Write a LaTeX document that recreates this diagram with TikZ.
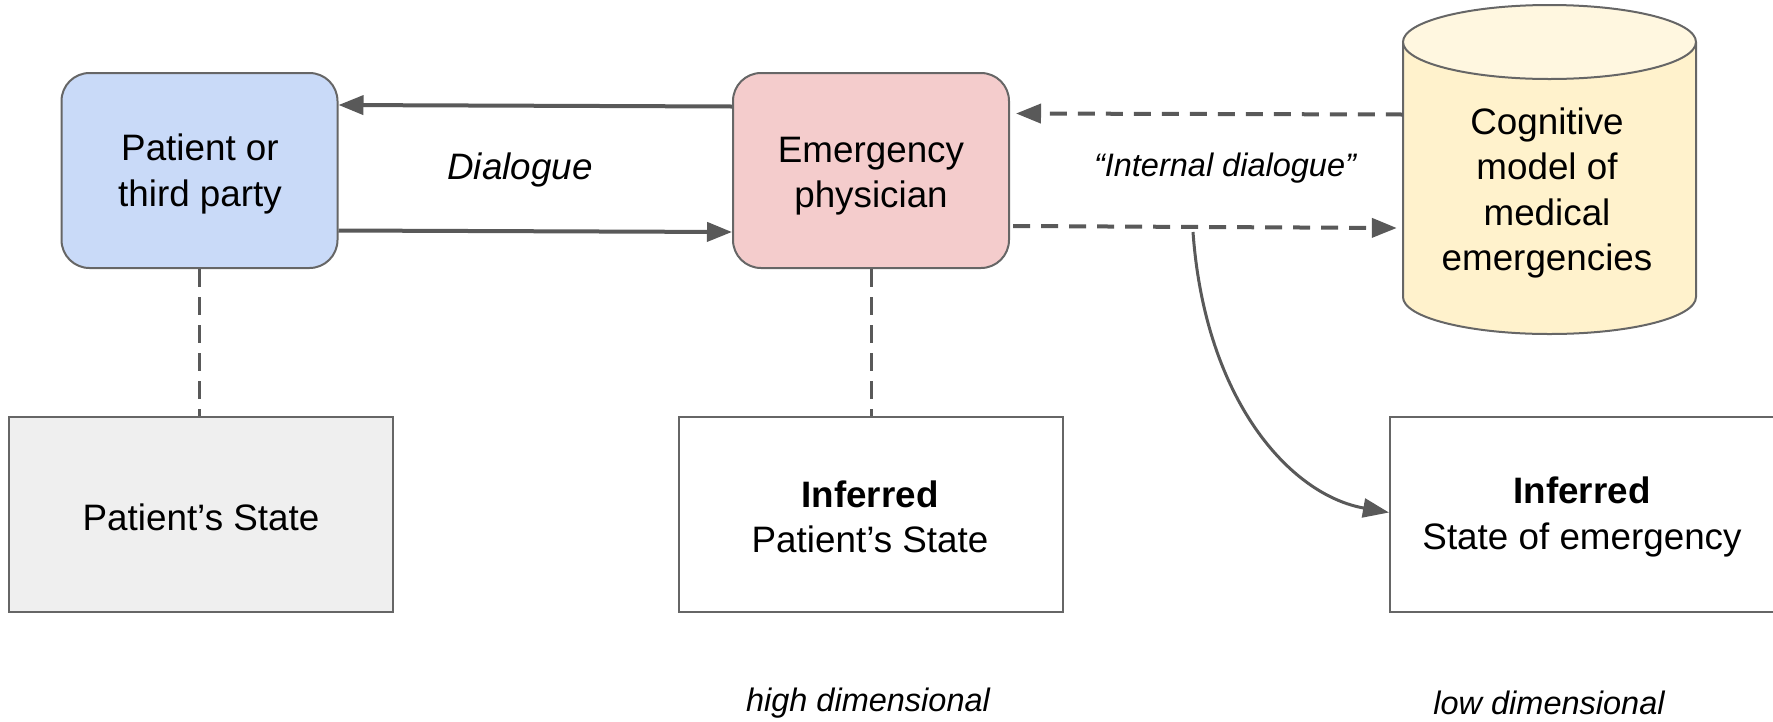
\documentclass[tikz,border=0pt]{standalone}
\usepackage{fontspec}
\setmainfont{Liberation Sans}
\usetikzlibrary{arrows.meta,calc}
\definecolor{linec}{HTML}{595959}
\definecolor{borderc}{HTML}{666666}
\definecolor{patblue}{HTML}{C9DAF8}
\definecolor{physpink}{HTML}{F4CCCC}
\definecolor{cylyellow}{HTML}{FFF2CC}
\definecolor{stategrey}{HTML}{EFEFEF}
\tikzset{
  bigtext/.style={font=\fontsize{36.8pt}{45.5pt}\selectfont, align=center},
  smalltext/.style={font=\fontsize{32.5pt}{40pt}\selectfont\itshape},
  roundbox/.style={draw=borderc, line width=2pt, rounded corners=28pt, minimum width=276pt, minimum height=195pt, inner sep=0pt, bigtext},
  statebox/.style={draw=borderc, line width=2pt, minimum width=384pt, minimum height=195pt, inner sep=0pt, bigtext},
  solidarrow/.style={draw=linec, line width=4pt, -{Triangle[length=25pt,width=19pt]}},
  dasharrow/.style={draw=linec, line width=4pt, dash pattern=on 17pt off 11pt, -{Triangle[length=25pt,width=19pt]}},
  dashlink/.style={draw=linec, line width=3pt, dash pattern=on 18pt off 10pt},
}
\begin{document}
\begin{tikzpicture}[x=1pt,y=-1pt]
\useasboundingbox (0,0) rectangle (1773,721);
% boxes
\node[roundbox, fill=patblue] (patient) at (199.5,170.5) {};
\node[bigtext] (patienttext) at (200,174) {Patient or\\third party};
\node[roundbox, fill=physpink] (phys) at (871,170.5) {};
\node[bigtext] (phystext) at (871,176) {Emergency\\physician};
% cylinder
\fill[cylyellow] (1403,42) -- (1403,297) arc[start angle=180,end angle=360,x radius=146.5pt,y radius=37pt] -- (1696,42) arc[start angle=0,end angle=180,x radius=146.5pt,y radius=37pt] -- cycle;
\draw[borderc, line width=2pt] (1403,42) -- (1403,297) arc[start angle=180,end angle=360,x radius=146.5pt,y radius=37pt] -- (1696,42);
\draw[borderc, line width=2pt, fill=cylyellow!60!white] (1549.5,42) ellipse[x radius=146.5pt,y radius=37pt];
\node[minimum width=293pt, minimum height=330pt, inner sep=0pt] (cyl) at (1549.5,169.5) {};
\node[bigtext] (cyltext) at (1547,193) {Cognitive\\model of\\medical\\emergencies};
% state boxes
\node[statebox, fill=stategrey] (pstate) at (201,514.5) {};
\node[bigtext] (pstatetext) at (201,517) {Patient’s State};
\node[statebox, fill=white] (infpat) at (871,514.5) {};
\node[bigtext] (infpattext) at (870,517) {\textbf{Inferred}\\Patient’s State};
\node[statebox, fill=white] (infemer) at (1582,514.5) {};
\node[bigtext] (infemertext) at (1582,517) {\textbf{Inferred}\\State of emergency};
% labels
\node[font=\fontsize{36.8pt}{44pt}\selectfont\itshape] (dlg) at (520,170) {Dialogue};
\node[smalltext] (idlg) at (1225,168) {“Internal dialogue”};
\node[smalltext] (high) at (868,703) {high dimensional};
\node[smalltext] (low) at (1549,703) {low dimensional};
% solid arrows
\draw[solidarrow] ([yshift=64pt]phys.west) -- ([yshift=65.5pt]patient.east);
\draw[solidarrow] ([yshift=-60pt]patient.east) -- ([yshift=-61.5pt]phys.west);
% dashed arrows
\draw[dasharrow] ([yshift=55pt]cyl.west) -- ([xshift=6pt,yshift=57pt]phys.east);
\draw[dasharrow] ([xshift=3pt,yshift=-55.5pt]phys.east) -- ([xshift=-6pt,yshift=-58.5pt]cyl.west);
% curved arrow
\coordinate (cstart) at (1193,232);
\draw[draw=linec, line width=3pt, -{Triangle[length=26pt,width=19pt]}] (cstart) .. controls (1205,400) and (1290,495) .. ([yshift=2pt]infemer.west);
% dashed vertical links
\draw[dashlink] (patient.south) -- (patient.south |- pstate.north);
\draw[dashlink] (phys.south) -- (phys.south |- infpat.north);
\end{tikzpicture}
\end{document}
